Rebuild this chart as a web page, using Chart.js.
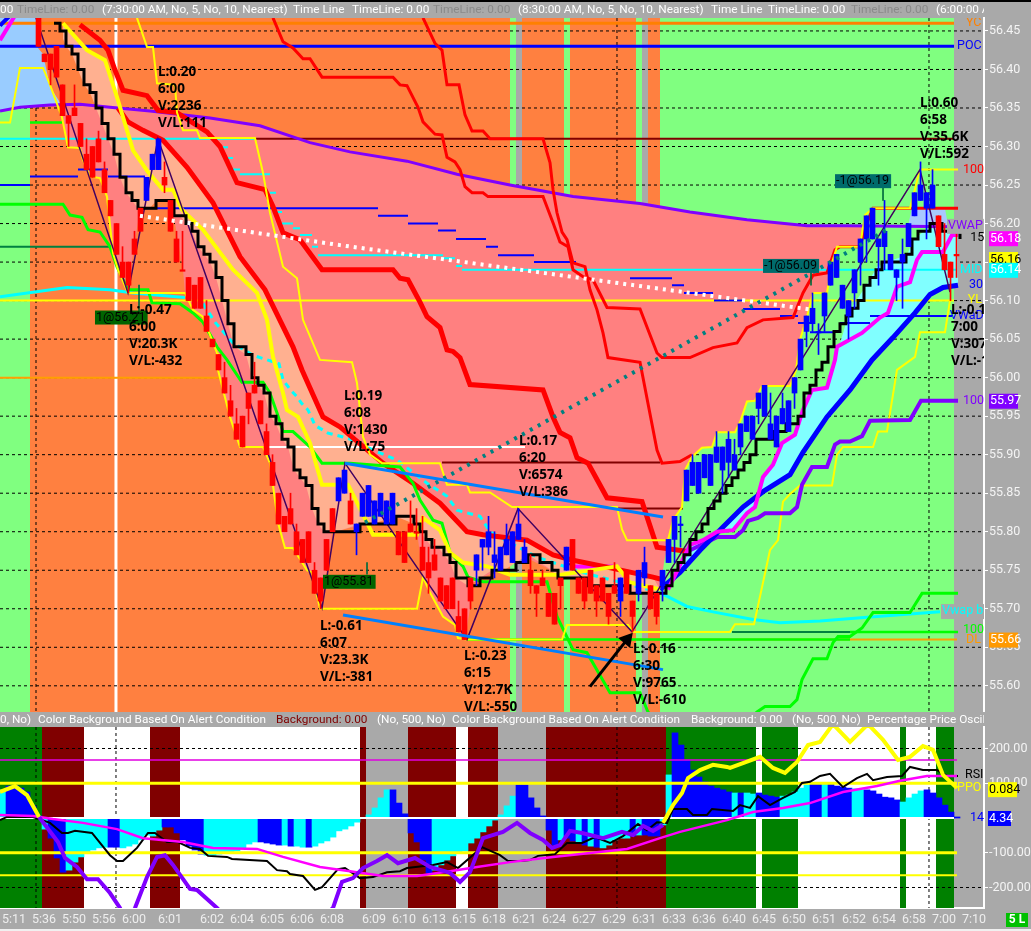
<!DOCTYPE html>
<html>
<head>
<meta charset="utf-8">
<title>Tick chart</title>
<script src="https://cdn.jsdelivr.net/npm/chart.js@4"></script>
<style>
  html, body { margin: 0; padding: 0; background: #a9a9a9; overflow: hidden; }
  #wrap { position: relative; width: 1031px; height: 931px; }
  canvas { position: absolute; left: 0; display: block; }
  #priceCanvas { top: 0; }
  #oscCanvas { top: 712px; }
</style>
</head>
<body>
<div id="wrap">
  <canvas id="priceCanvas" width="1031" height="712"></canvas>
  <canvas id="oscCanvas" width="1031" height="219"></canvas>
</div>
<script>
// --- x axis: one unit is one bar slot ---
const timeTickPos = [2.33, 7.33, 12.33, 17.33, 22.33, 28.33, 35.33, 40.33, 45.33, 50.33, 55.33, 62.33, 67.33, 72.33, 77.33, 82.33, 87.33, 92.33, 97.33, 102.33, 107.33, 112.33, 117.33, 122.33, 127.33, 132.33, 137.33, 142.33, 147.33, 152.33, 157.33, 162.33];
const timeTickLabels = ['5:11', '5:36', '5:50', '5:56', '6:00', '6:01', '6:02', '6:04', '6:05', '6:06', '6:08', '6:09', '6:10', '6:13', '6:15', '6:18', '6:21', '6:24', '6:27', '6:29', '6:31', '6:33', '6:36', '6:40', '6:45', '6:50', '6:51', '6:52', '6:54', '6:58', '7:00', '7:10'];
const sessionLines = [6, 102.83, 154.83];
const whiteSessionLine = 19.33;

// --- price panel ticks ---
const priceTicks = [56.45, 56.40, 56.35, 56.30, 56.25, 56.20, 56.15, 56.10, 56.05, 56.00, 55.95, 55.90, 55.85, 55.80, 55.75, 55.70, 55.65, 55.60];
const oscTicks = [200, 100, -100, -200];

// --- background alert bands: start, end, kind ---
const priceBands = [[0, 5, 'g'], [5, 85, 'o'], [85, 86, 'g'], [86, 87, 's'], [87, 94, 'o'], [94, 95, 'g'], [95, 106, 'o'], [106, 107, 'g'], [107, 108, 's'], [108, 110, 'o'], [110, 159, 'g']];
const oscBands = [[0, 7, 'G'], [7, 14, 'M'], [14, 25, 'W'], [25, 30, 'M'], [30, 60, 'W'], [60, 61, 'M'], [61, 68, 's'], [68, 76, 'M'], [76, 78, 'W'], [78, 83, 'M'], [83, 91, 's'], [91, 111, 'M'], [111, 126, 'G'], [126, 127, 'W'], [127, 133, 'G'], [133, 150, 'W'], [150, 151, 'G'], [151, 156, 'W'], [156, 159, 'G']];

// --- candles, first one sits in slot 6 ---
const candleFirst = 6;
const candleOpen = [56.47, 56.42, 56.42, 56.43, 56.38, 56.34, 56.35, 56.33, 56.29, 56.30, 56.31, 56.27, 56.23, 56.20, 56.15, 56.15, 56.18, 56.22, 56.23, 56.27, 56.27, 56.26, 56.23, 56.18, 56.14, 56.13, 56.12, 56.13, 56.08, 56.05, 56.03, 56.00, 55.97, 55.94, 55.95, 55.98, 55.99, 55.97, 55.93, 55.89, 55.85, 55.82, 55.83, 55.80, 55.79, 55.80, 55.75, 55.74, 55.79, 55.83, 55.84, 55.85, 55.84, 55.80, 55.82, 55.82, 55.81, 55.82, 55.81, 55.81, 55.80, 55.80, 55.81, 55.80, 55.78, 55.76, 55.77, 55.74, 55.73, 55.74, 55.69, 55.70, 55.74, 55.75, 55.78, 55.78, 55.76, 55.75, 55.77, 55.76, 55.79, 55.76, 55.75, 55.73, 55.74, 55.72, 55.72, 55.74, 55.75, 55.79, 55.74, 55.74, 55.75, 55.73, 55.74, 55.72, 55.73, 55.71, 55.75, 55.71, 55.72, 55.74, 55.73, 55.72, 55.73, 55.76, 55.79, 55.81, 55.84, 55.86, 55.85, 55.87, 55.86, 55.89, 55.88, 55.89, 55.88, 55.91, 55.93, 55.92, 55.96, 55.95, 55.92, 55.91, 55.94, 55.93, 55.98, 56.01, 56.06, 56.07, 56.06, 56.08, 56.12, 56.13, 56.09, 56.08, 56.11, 56.15, 56.18, 56.18, 56.17, 56.17, 56.14, 56.13, 56.15, 56.17, 56.21, 56.23, 56.22, 56.22, 56.21, 56.16, 56.15, 56.16];
const candleClose = [56.43, 56.41, 56.40, 56.39, 56.34, 56.33, 56.34, 56.30, 56.27, 56.26, 56.28, 56.24, 56.21, 56.16, 56.13, 56.12, 56.16, 56.19, 56.26, 56.29, 56.31, 56.25, 56.19, 56.15, 56.14, 56.10, 56.09, 56.09, 56.06, 56.04, 56.01, 55.98, 55.95, 55.92, 55.91, 55.96, 55.98, 55.94, 55.90, 55.86, 55.81, 55.80, 55.81, 55.77, 55.76, 55.76, 55.72, 55.71, 55.75, 55.80, 55.87, 55.88, 55.81, 55.81, 55.85, 55.86, 55.84, 55.85, 55.84, 55.85, 55.77, 55.76, 55.80, 55.80, 55.75, 55.74, 55.75, 55.71, 55.70, 55.70, 55.67, 55.66, 55.71, 55.77, 55.79, 55.80, 55.77, 55.78, 55.79, 55.80, 55.81, 55.78, 55.73, 55.72, 55.73, 55.69, 55.68, 55.73, 55.78, 55.75, 55.72, 55.71, 55.72, 55.71, 55.71, 55.69, 55.72, 55.74, 55.72, 55.69, 55.75, 55.76, 55.70, 55.69, 55.75, 55.79, 55.82, 55.81, 55.88, 55.89, 55.89, 55.90, 55.90, 55.91, 55.91, 55.92, 55.90, 55.94, 55.95, 55.95, 55.98, 55.99, 55.94, 55.95, 55.96, 55.97, 56.00, 56.05, 56.08, 56.09, 56.06, 56.11, 56.15, 56.16, 56.12, 56.10, 56.14, 56.18, 56.21, 56.22, 56.18, 56.19, 56.16, 56.14, 56.16, 56.20, 56.24, 56.25, 56.24, 56.25, 56.17, 56.14, 56.13, 56.16];
const candleHigh = [56.47, 56.42, 56.42, 56.43, 56.38, 56.34, 56.38, 56.33, 56.31, 56.30, 56.32, 56.28, 56.23, 56.20, 56.17, 56.15, 56.19, 56.22, 56.26, 56.29, 56.31, 56.28, 56.23, 56.19, 56.19, 56.13, 56.12, 56.13, 56.10, 56.05, 56.03, 56.02, 55.99, 55.96, 55.95, 55.98, 56.02, 55.97, 55.94, 55.90, 55.85, 55.82, 55.85, 55.81, 55.79, 55.80, 55.76, 55.74, 55.79, 55.83, 55.87, 55.88, 55.85, 55.81, 55.85, 55.86, 55.84, 55.85, 55.84, 55.85, 55.80, 55.80, 55.84, 55.83, 55.82, 55.78, 55.79, 55.74, 55.73, 55.74, 55.71, 55.70, 55.74, 55.77, 55.79, 55.82, 55.80, 55.78, 55.81, 55.80, 55.83, 55.79, 55.77, 55.73, 55.75, 55.72, 55.72, 55.74, 55.78, 55.79, 55.74, 55.74, 55.75, 55.73, 55.74, 55.72, 55.76, 55.74, 55.75, 55.71, 55.75, 55.78, 55.73, 55.72, 55.75, 55.79, 55.82, 55.82, 55.88, 55.90, 55.89, 55.90, 55.90, 55.93, 55.91, 55.93, 55.92, 55.94, 55.95, 55.95, 55.98, 55.99, 55.98, 55.95, 55.98, 55.97, 56.00, 56.05, 56.08, 56.11, 56.07, 56.11, 56.15, 56.16, 56.12, 56.10, 56.14, 56.18, 56.21, 56.22, 56.18, 56.23, 56.16, 56.14, 56.18, 56.20, 56.24, 56.28, 56.24, 56.27, 56.21, 56.20, 56.15, 56.19];
const candleLow = [56.43, 56.41, 56.38, 56.39, 56.34, 56.30, 56.34, 56.30, 56.27, 56.26, 56.28, 56.24, 56.21, 56.16, 56.13, 56.11, 56.16, 56.19, 56.23, 56.27, 56.27, 56.24, 56.19, 56.15, 56.14, 56.10, 56.09, 56.09, 56.06, 56.04, 56.01, 55.98, 55.95, 55.92, 55.91, 55.94, 55.98, 55.94, 55.90, 55.86, 55.81, 55.80, 55.81, 55.77, 55.76, 55.76, 55.72, 55.70, 55.75, 55.80, 55.84, 55.85, 55.81, 55.77, 55.82, 55.82, 55.81, 55.82, 55.81, 55.81, 55.77, 55.76, 55.80, 55.79, 55.75, 55.72, 55.75, 55.71, 55.70, 55.70, 55.67, 55.66, 55.70, 55.73, 55.75, 55.77, 55.74, 55.75, 55.77, 55.76, 55.79, 55.76, 55.72, 55.69, 55.73, 55.69, 55.68, 55.70, 55.75, 55.75, 55.72, 55.70, 55.72, 55.69, 55.71, 55.68, 55.72, 55.69, 55.72, 55.67, 55.71, 55.73, 55.70, 55.68, 55.71, 55.76, 55.76, 55.78, 55.84, 55.86, 55.85, 55.87, 55.86, 55.89, 55.85, 55.87, 55.88, 55.90, 55.93, 55.92, 55.94, 55.95, 55.92, 55.91, 55.94, 55.93, 55.96, 56.01, 56.04, 56.06, 56.03, 56.06, 56.12, 56.13, 56.09, 56.05, 56.09, 56.12, 56.15, 56.18, 56.12, 56.14, 56.14, 56.10, 56.09, 56.17, 56.21, 56.23, 56.18, 56.22, 56.17, 56.14, 56.10, 56.13];

// --- price panel lines: [slot, price] ---
const vwapLine = [[0, 56.346], [3.33, 56.351], [8.33, 56.354], [13.33, 56.355], [18.33, 56.351], [25, 56.346], [35, 56.337], [43.33, 56.327], [51.67, 56.305], [58.33, 56.293], [67.83, 56.281], [76.17, 56.264], [85, 56.250], [95.5, 56.235], [106.67, 56.226], [115, 56.215], [124.5, 56.205], [134.5, 56.197], [141.17, 56.197], [159.5, 56.196]];
const lowerChannel = [[0, 56.331], [1.67, 56.331], [3.33, 56.402], [7.17, 56.402], [8.33, 56.380], [10.33, 56.338], [11.33, 56.299], [13.33, 56.298], [13.83, 56.283], [15, 56.261], [16.67, 56.259], [17.83, 56.235], [18.83, 56.162], [19.67, 56.140], [21.33, 56.110], [30.83, 56.110], [32.17, 56.088], [33.83, 56.079], [36.17, 56.032], [36.33, 56.010], [38.33, 55.949], [40, 55.910], [43.83, 55.910], [45, 55.889], [46.33, 55.812], [47.5, 55.779], [48.83, 55.779], [51.17, 55.750], [52, 55.747], [53.33, 55.700], [69.5, 55.700], [70.5, 55.741], [71.67, 55.721], [73.83, 55.690], [75.83, 55.679], [76.33, 55.662], [77.83, 55.660], [93.67, 55.660], [94.5, 55.679], [104.67, 55.679], [105.5, 55.670], [121.67, 55.670], [122.5, 55.680], [125.67, 55.680], [128.33, 55.776], [129.67, 55.789], [130.5, 55.839], [131.67, 55.849], [133.33, 55.860], [138.67, 55.860], [139.5, 55.900], [140.5, 55.910], [145.5, 55.910], [146.33, 55.930], [147.83, 55.930], [149.5, 56.010], [152.5, 56.027], [153.33, 56.059], [157.5, 56.059], [158.33, 56.100]];
const upperChannel = [[22.83, 56.467], [24.5, 56.429], [25.5, 56.429], [26.17, 56.382], [29.17, 56.380], [29.5, 56.344], [30.5, 56.321], [32.83, 56.321], [33.33, 56.311], [42.5, 56.311], [43.83, 56.266], [45, 56.214], [47.17, 56.144], [49.5, 56.129], [50.5, 56.075], [53.33, 56.023], [58.67, 56.020], [59.5, 55.993], [60.5, 55.923], [61.67, 55.900], [63.67, 55.889], [73.33, 55.889], [74.5, 55.861], [77.83, 55.861], [78.33, 55.851], [81.67, 55.851], [85.33, 55.832], [102.83, 55.832], [103.67, 55.803], [104.5, 55.789], [111.33, 55.789], [112.17, 55.815], [113.67, 55.832], [114.17, 55.880], [115.33, 55.897], [117, 55.909], [118.67, 55.910], [119.5, 55.929], [122.5, 55.929], [123.33, 55.942], [124.5, 55.969], [125.83, 55.970], [127, 55.989], [131.67, 55.989], [132.67, 56.010], [133.33, 56.049], [134.5, 56.079], [135.5, 56.110], [137.83, 56.110], [138.67, 56.149], [139.5, 56.170], [143.33, 56.170], [144.17, 56.211], [145.5, 56.220], [151.67, 56.220], [153.33, 56.270], [159.67, 56.270]];
const pinkFloor = [[10.33, 56.338], [11.33, 56.299], [13.33, 56.298], [13.83, 56.283], [15, 56.261], [16.67, 56.259], [17.83, 56.235], [18.83, 56.162], [19.67, 56.140], [21.33, 56.110], [22.33, 56.170], [23.33, 56.218], [24.5, 56.220], [26.17, 56.228], [28, 56.228], [28.67, 56.218], [29.17, 56.200], [30.5, 56.140], [30.83, 56.110], [32.17, 56.088], [33.83, 56.079], [36.17, 56.032], [36.33, 56.010], [38.33, 55.949], [40, 55.910], [43.83, 55.910], [45, 55.889], [46.33, 55.812], [47.5, 55.779], [48.83, 55.779], [51.17, 55.750], [52, 55.747], [53.33, 55.700], [54.33, 55.745], [55.33, 55.799], [58.33, 55.805], [60, 55.807], [62.17, 55.813], [66.17, 55.818], [69.17, 55.812], [69.67, 55.790], [70.5, 55.741], [71.67, 55.721], [73.83, 55.690], [75.83, 55.679], [76.33, 55.662], [77.5, 55.660], [78.33, 55.700], [78.83, 55.734], [80.5, 55.741], [83.33, 55.750], [86.17, 55.763], [87.83, 55.766], [91.17, 55.753], [93.33, 55.741], [96.17, 55.741], [101.17, 55.728], [105.5, 55.725], [110, 55.722], [110.67, 55.760], [112.17, 55.815], [113.67, 55.832], [114.17, 55.880], [115.33, 55.897], [117, 55.909], [118.67, 55.910], [119.5, 55.929], [122.5, 55.929], [123.33, 55.942], [124.5, 55.969], [125.83, 55.970], [127, 55.989], [131.67, 55.989], [132.67, 56.010], [133.33, 56.049], [134.5, 56.079], [135.5, 56.110], [137.83, 56.110], [138.67, 56.149], [139.5, 56.170], [143.33, 56.170], [143.67, 56.197]];
const peachCeiling = [[10.5, 56.460], [14.5, 56.425], [17.5, 56.412], [19.5, 56.364], [19.67, 56.350], [21.33, 56.332], [23.83, 56.321], [27.17, 56.308], [31.17, 56.273], [35.5, 56.227], [40, 56.157], [44.17, 56.114], [48.83, 56.040], [50.33, 56.010], [53.83, 55.949], [56.67, 55.936], [63.83, 55.889], [68.83, 55.863], [73.33, 55.837], [77.83, 55.800], [80.5, 55.796], [87.83, 55.789], [92.17, 55.770], [95.5, 55.763], [101.17, 55.754], [108.83, 55.741], [110, 55.725]];
const redInner = [[19.67, 56.350], [21.33, 56.332], [23.83, 56.321], [27.17, 56.308], [31.17, 56.273], [35.5, 56.227], [40, 56.157], [44.17, 56.114], [48.83, 56.040], [50.33, 56.010], [53.83, 55.949], [56.67, 55.936], [63.83, 55.889], [68.83, 55.863], [73.33, 55.837], [77.83, 55.800], [80.5, 55.796], [87.83, 55.789], [92.17, 55.770], [95.5, 55.763], [101.17, 55.754], [108.83, 55.741], [110.83, 55.737]];
const redOuter = [[13.33, 56.458], [16.67, 56.438], [18, 56.425], [19.17, 56.399], [20.5, 56.373], [24.5, 56.366], [26.33, 56.347], [29.5, 56.344], [34.5, 56.319], [36.67, 56.300], [39.5, 56.253], [44.17, 56.244], [45.5, 56.222], [47.17, 56.188], [50, 56.179], [53.67, 56.140], [65.5, 56.140], [66.67, 56.129], [68, 56.127], [70, 56.098], [71.17, 56.079], [73.33, 56.065], [74.5, 56.036], [75.5, 56.034], [76.67, 56.026], [78.33, 55.991], [90.5, 55.984], [92.17, 55.949], [93.33, 55.929], [95, 55.922], [96.17, 55.896], [98, 55.889], [101.17, 55.844], [107, 55.839], [109.5, 55.780], [115, 55.774]];
const redThinA = [[45.5, 56.467], [47.17, 56.436], [48.83, 56.428], [50.5, 56.414], [51.67, 56.414], [53.67, 56.390], [65.5, 56.390], [66.67, 56.380], [67.83, 56.379], [69.67, 56.351], [70.5, 56.332], [72.5, 56.316], [73.67, 56.315], [74.5, 56.286], [75.83, 56.280], [76.67, 56.270], [77.5, 56.248], [78.67, 56.240], [80.5, 56.240], [81.33, 56.235], [90.5, 56.235], [92.17, 56.201], [93.33, 56.176], [94.67, 56.170], [95.5, 56.140], [97.17, 56.131], [98.83, 56.127], [101.17, 56.091], [106.67, 56.089], [109.5, 56.032], [110.33, 56.026], [115, 56.026], [118.83, 56.039], [122.83, 56.045], [124.5, 56.065], [127.17, 56.075], [132.17, 56.078], [133.83, 56.110], [135.5, 56.133], [137.83, 56.136], [139.17, 56.166], [140, 56.170], [143.33, 56.170], [144.33, 56.198], [145.5, 56.220], [159.67, 56.220]];
const redThinB = [[70.5, 56.467], [72.5, 56.434], [73.67, 56.425], [74.5, 56.380], [76.5, 56.380], [77.5, 56.341], [78.67, 56.320], [80.5, 56.320], [81.67, 56.310], [90.5, 56.310], [91.67, 56.279], [92.17, 56.244], [92.83, 56.214], [93.67, 56.189], [94.5, 56.179], [95.5, 56.149], [97.5, 56.144], [98.33, 56.114], [99.5, 56.088], [100.5, 56.058], [101.33, 56.026], [106.67, 56.020], [109.5, 55.906], [110.33, 55.889], [113.33, 55.891], [115.33, 55.900]];
const blackStair = [[9, 56.46], [10, 56.45], [11, 56.43], [12, 56.42], [13, 56.40], [14, 56.38], [15, 56.37], [16, 56.35], [17, 56.33], [18, 56.31], [19, 56.29], [20, 56.26], [21, 56.24], [22, 56.23], [23, 56.22], [25, 56.22], [26, 56.23], [28, 56.23], [29, 56.21], [30, 56.21], [31, 56.20], [32, 56.19], [33, 56.17], [34, 56.16], [35, 56.15], [36, 56.13], [37, 56.10], [38, 56.07], [39, 56.04], [41, 56.03], [42, 56.00], [43, 55.99], [44, 55.98], [45, 55.95], [46, 55.94], [47, 55.92], [48, 55.91], [49, 55.88], [50, 55.87], [51, 55.86], [52, 55.83], [53, 55.81], [54, 55.80], [56, 55.80], [60, 55.81], [62, 55.81], [66, 55.82], [69, 55.81], [70, 55.80], [71, 55.79], [72, 55.78], [73, 55.78], [74, 55.77], [75, 55.76], [76, 55.74], [78, 55.73], [80, 55.74], [82, 55.75], [84, 55.75], [86, 55.76], [88, 55.77], [90, 55.76], [92, 55.75], [93, 55.74], [96, 55.74], [98, 55.73], [101, 55.73], [105, 55.72], [110, 55.72], [111, 55.73], [112, 55.75], [113, 55.76], [114, 55.77], [115, 55.79], [116, 55.80], [117, 55.81], [118, 55.83], [119, 55.84], [120, 55.85], [121, 55.86], [122, 55.87], [123, 55.88], [124, 55.89], [125, 55.90], [126, 55.92], [127, 55.92], [129, 55.93], [131, 55.94], [133, 55.95], [134, 55.98], [135, 55.99], [136, 56.01], [137, 56.02], [138, 56.04], [139, 56.06], [140, 56.07], [141, 56.08], [142, 56.09], [143, 56.10], [144, 56.12], [145, 56.13], [146, 56.14], [147, 56.15], [149, 56.15], [151, 56.16], [152, 56.18], [153, 56.19], [155, 56.20], [157, 56.19], [160, 56.18]];
const yellowFast = [[10.5, 56.460], [14.5, 56.425], [17.5, 56.412], [19.5, 56.364], [22.17, 56.295], [24.67, 56.267], [27.17, 56.244], [28.83, 56.244], [30.33, 56.218], [33.83, 56.192], [38.83, 56.140], [42.83, 56.110], [44.5, 56.075], [45.5, 56.027], [47.17, 55.980], [47.83, 55.958], [49.67, 55.949], [51.67, 55.915], [53.67, 55.861], [58, 55.861], [61.17, 55.812], [62.17, 55.796], [69.5, 55.796], [70.5, 55.818], [73.33, 55.802], [75, 55.773], [77.17, 55.760], [81.17, 55.755], [85, 55.744], [93.33, 55.744], [102.83, 55.755], [105, 55.734], [110, 55.725]];
const greenLine = [[0, 56.225], [10.5, 56.225], [11.67, 56.211], [13.67, 56.208], [14.67, 56.192], [16.67, 56.189], [18.33, 56.170], [19.5, 56.144], [21.33, 56.114], [24.67, 56.114], [25.33, 56.097], [30, 56.096], [32.17, 56.084], [33.83, 56.072], [36.17, 56.040], [37.83, 56.023], [40.33, 55.994], [43.83, 55.994], [45, 55.980], [46.17, 55.954], [47.17, 55.930], [48.83, 55.930], [51.67, 55.910], [53.67, 55.889], [58.33, 55.889], [66.67, 55.884], [68.83, 55.863], [70, 55.841], [72.17, 55.815], [73.67, 55.811], [75, 55.773], [77.17, 55.755], [78, 55.741], [80.5, 55.735], [91.17, 55.735], [92.83, 55.690], [95.5, 55.647], [97.83, 55.643], [101.67, 55.591], [106.67, 55.591], [108, 55.566], [116.67, 55.504], [126.17, 55.566], [127.5, 55.573], [131.67, 55.573], [132.83, 55.582], [133.67, 55.608], [135.5, 55.635], [137.83, 55.635], [138.83, 55.656], [139.67, 55.664], [141.67, 55.664], [143.67, 55.675], [145.5, 55.695], [151.67, 55.695], [153.67, 55.720], [159.67, 55.720]];
const vwapBandLeft = [[0, 56.105], [11.17, 56.117], [18.33, 56.114], [22.17, 56.110], [30.83, 56.104]];
const vwapBandMid = [[33.83, 56.096], [35.83, 56.072], [38.83, 56.045], [42.17, 56.029], [46.5, 56.018], [47.17, 55.997], [48.33, 55.985], [49.5, 55.975], [50.33, 55.966], [51.33, 55.958], [52.5, 55.938], [54.67, 55.928], [57.17, 55.923], [58.83, 55.919], [62.17, 55.906], [66.17, 55.893], [71.17, 55.863], [74.5, 55.846], [76.17, 55.828], [80, 55.820], [81.67, 55.800], [89.5, 55.767], [92.17, 55.760], [97.17, 55.747], [110, 55.721]];
const vwapBandRight = [[110, 55.721], [114.5, 55.703], [118.83, 55.696], [125.5, 55.686], [130, 55.682], [136.67, 55.684], [144.5, 55.689], [156.67, 55.696]];
const magentaLine = [[111.33, 55.725], [115, 55.783], [117.17, 55.789], [119.5, 55.800], [122.17, 55.802], [124.5, 55.824], [125.83, 55.832], [127.17, 55.871], [128.83, 55.887], [130.33, 55.915], [132.5, 55.926], [133.83, 55.958], [135.33, 55.984], [137.83, 55.987], [139.17, 56.023], [139.5, 56.040], [143.67, 56.058], [146.67, 56.078], [148, 56.084], [149.5, 56.118], [151.67, 56.124], [152.83, 56.153], [153.67, 56.163], [157.17, 56.163], [158.67, 56.185], [159.67, 56.185]];
const magentaHead = [[0, 56.438], [2.5, 56.470]];
const blueHead = [[0, 56.457], [1.67, 56.470]];
const cyanCeiling = [[111.33, 55.725], [115, 55.783], [117.17, 55.789], [119.5, 55.800], [122.17, 55.802], [124.5, 55.824], [125.83, 55.832], [127.17, 55.871], [128.83, 55.887], [130.33, 55.915], [132.5, 55.926], [133.83, 55.958], [135.33, 55.984], [137.83, 55.987], [139.17, 56.023], [141.67, 56.088], [144.5, 56.121], [146.17, 56.144], [148.83, 56.153], [151.17, 56.159], [152.17, 56.179], [155, 56.196], [157.83, 56.192], [159.67, 56.185]];
const blueThick = [[110, 55.725], [113.33, 55.747], [116.67, 55.776], [120.5, 55.806], [123.83, 55.832], [127.17, 55.852], [131.67, 55.874], [133.83, 55.903], [137.83, 55.949], [141.67, 55.984], [145.33, 56.023], [148.83, 56.052], [152.5, 56.084], [155, 56.108], [157.17, 56.117], [159.67, 56.120]];
const purpleStep = [[114.5, 55.774], [119.5, 55.793], [122.5, 55.793], [123.83, 55.802], [124.67, 55.814], [126.33, 55.818], [127.5, 55.824], [131.67, 55.824], [132.83, 55.832], [133.67, 55.861], [135.33, 55.884], [137.83, 55.884], [139.17, 55.913], [140, 55.917], [141.67, 55.917], [143.67, 55.924], [145, 55.944], [151.67, 55.945], [153.5, 55.970], [159.67, 55.970]];
const zigzag = [[6, 56.467], [21.33, 56.110], [26.33, 56.310], [53.67, 55.701], [57.5, 55.889], [77.83, 55.660], [86.33, 55.830], [105.33, 55.670], [153.33, 56.270], [158.33, 56.111]];
const tealDots = [[60.83, 55.812], [110, 56.026], [135.5, 56.137], [147.83, 56.192]];
const whiteDots = [[23.33, 56.210], [56.67, 56.172], [115, 56.110], [135.5, 56.088]];
const trendUpper = [[57.5, 55.889], [110.5, 55.819]];
const trendLower = [[57.17, 55.692], [110.5, 55.621]];
const arrowLine = [[98.33, 55.599], [104.5, 55.660]];
const leftSkyEdge = [[0, 56.467], [6, 56.467], [6.33, 56.428], [7.17, 56.420], [8.33, 56.378], [10, 56.357], [10.33, 56.353]];
const rightSkyEdge = [[151.33, 56.197], [152, 56.220], [157.5, 56.220], [158, 56.197]];

// --- flat stubs: from slot, to slot, price ---
const ycLevel = [[0, 159, 56.46]];
const pocLevel = [[0, 159, 56.43]];
const yesterdayLow = [[0, 159, 56.10]];
const orangeLevels = [[0, 36.67, 56.00], [93.83, 159.5, 55.66]];
const cyanLevels = [[0, 42.5, 56.31], [37, 38, 56.299], [38, 38.83, 56.285], [38.83, 40, 56.27], [40, 45, 56.264], [45, 46, 56.24], [46, 47, 56.215], [47, 48.83, 56.20], [48.83, 50, 56.194], [50, 52, 56.185], [52, 53, 56.17], [53, 73.83, 56.159], [73.83, 75.83, 56.155], [76, 77, 56.145], [77, 159.5, 56.14]];
const maroonLevels = [[42.5, 159, 56.31], [73.67, 110, 55.89], [103, 113.83, 55.83]];
const whiteLevels = [[40.5, 87.5, 55.91]];
const darkGreenLevels = [[0, 18.83, 56.17], [122, 141.67, 55.67]];
const limeLevels = [[5, 10.33, 56.331], [141.67, 159.67, 55.67], [77.83, 141.67, 55.66]];
const magentaStub = [[95.83, 102.17, 55.755]];
const blueStubs = [[0, 5, 56.25], [5, 13, 56.261], [13, 18, 56.27], [18, 24.17, 56.261], [24.17, 63, 56.22], [63, 68, 56.21], [68, 73, 56.20], [73, 76, 56.191], [76, 81, 56.18], [81, 83, 56.17], [83, 89, 56.159], [89, 96, 56.15], [105, 112, 56.129], [112, 114, 56.12], [114, 118.83, 56.11], [119, 123.67, 56.10], [123.83, 130, 56.089], [130, 133, 56.08], [133, 135, 56.071], [135, 139.17, 56.059], [140, 145, 56.071], [145, 158.67, 56.08]];
const tradeStems = [[23.17, 56.12, 56.085], [61.17, 55.76, 55.745], [147.17, 56.25, 56.23], [135.17, 56.137, 56.12]];

// --- text pinned to the price scale ---
const noteBlocks = [
  [26.33, 56.397, ['L:0.20', '6:00', 'V:2236', 'V/L:111']],
  [21.5, 56.088, ['L:-0.47', '6:00', 'V:20.3K', 'V/L:-432']],
  [153.33, 56.356, ['L:0.60', '6:58', 'V:35.6K', 'V/L:592']],
  [53.33, 55.678, ['L:-0.61', '6:07', 'V:23.3K', 'V/L:-381']],
  [57.33, 55.976, ['L:0.19', '6:08', 'V:1430', 'V/L:75']],
  [86.5, 55.917, ['L:0.17', '6:20', 'V:6574', 'V/L:386']],
  [77.33, 55.638, ['L:-0.23', '6:15', 'V:12.7K', 'V/L:-550']],
  [105.5, 55.648, ['L:-0.16', '6:30', 'V:9765', 'V/L:-610']],
  [158.5, 56.087, ['L:-0.1', '7:00', 'V:307', 'V/L:-1']]
];
const seriesTags = [
  ['YC', 161, 56.460, '#ff8000'], ['POC', 159.5, 56.430, '#0000ff'], ['100', 160.5, 56.270, '#ff0000'],
  ['VWAP', 158, 56.197, '#8000ff'], ['15', 161.7, 56.181, '#000000'], ['MID', 160, 56.140, '#00ffff'],
  ['30', 161.5, 56.120, '#0000ff'], ['YL', 161.3, 56.101, '#ffff00'], ['VWaD', 158.3, 56.080, '#0000ff'],
  ['100', 160.5, 55.970, '#8000ff'], ['Vwap b', 157, 55.697, '#00ffff'], ['100', 160.5, 55.672, '#00ff00'],
  ['DL', 161, 55.660, '#ff9900']
];
const tradeTags = [['1@56.21', 15.83, 56.078, '#006400'], ['1@55.81', 53.83, 55.735, '#006400'], ['-1@56.19', 139.17, 56.255, '#006b6b'], ['-1@56.09', 127.17, 56.145, '#006b6b']];
const priceFlags = [['56.18', 56.181, '#ff00ff', '#ffffff'], ['56.16', 56.154, '#ffff00', '#000000'], ['56.14', 56.140, '#00ffff', '#ffffff'], ['55.97', 55.970, '#8000ff', '#ffffff'], ['55.66', 55.660, '#ff9900', '#ffffff']];

// --- header strips ---
const topStrip = [['00', 0, 1], ['TimeLine: 0.00', 17, 0], ['(7:30:00 AM, No, 5, No, 10, Nearest)', 102, 1], ['Time Line', 293, 1], ['TimeLine: 0.00', 352, 1], ['TimeLine: 0.00', 433, 0], ['(8:30:00 AM, No, 5, No, 10, Nearest)', 518, 1], ['Time Line', 711, 1], ['TimeLine: 0.00', 768, 1], ['TimeLine: 0.00', 851, 0], ['(6:00:00 AM, No, 5, No, 10, Nearest)', 936, 1]];
const oscStrip = [['0, No)', 0, 1], ['Color Background Based On Alert Condition', 38, 1], ['Background: 0.00', 276, 2], ['(No, 500, No)', 377, 1], ['Color Background Based On Alert Condition', 452, 1], ['Background: 0.00', 691, 1], ['(No, 500, No)', 792, 1], ['Percentage Price Oscillator', 867, 1]];

// --- oscillator panel ---
const histValues = [81, 92, 95, 86, 75, 35, 6, -32, -58, -115, -156, -150, -127, -112, -101, -92, -86, -84, -84, -84, -86, -81, -75, -63, -49, -52, -35, -26, -26, -43, -63, -81, -92, -104, -107, -107, -104, -101, -101, -95, -86, -75, -69, -69, -72, -75, -78, -78, -81, -81, -84, -84, -81, -72, -66, -55, -37, -32, -23, -12, 0, 9, 29, 58, 81, 81, 43, 12, -43, -69, -121, -158, -150, -135, -121, -109, -101, -95, -72, -58, -40, -23, -6, 9, 35, 63, 95, 95, 58, 29, 6, -35, -78, -63, -58, -66, -72, -78, -81, -84, -86, -78, -63, -58, -58, -52, -49, -49, -52, -52, -20, 124, 245, 210, 167, 138, 118, 104, 92, 86, 81, 75, 72, 72, 72, 69, 72, 66, 63, 60, 63, 66, 75, 86, 95, 98, 98, 98, 98, 92, 89, 86, 84, 81, 81, 78, 69, 60, 58, 52, 46, 58, 69, 78, 81, 72, 58, 37, 17, 3];
const histBlueBars = [1, 2, 3, 4, 5, 6, 8, 9, 10, 18, 19, 27, 28, 29, 30, 31, 32, 33, 43, 44, 45, 46, 48, 51, 65, 66, 67, 68, 69, 70, 71, 86, 87, 88, 89, 90, 91, 92, 94, 95, 97, 99, 105, 107, 108, 109, 112, 113, 114, 115, 116, 117, 118, 119, 120, 121, 123, 126, 127, 128, 129, 135, 136, 138, 139, 140, 141, 144, 145, 146, 147, 148, 149, 154, 155, 156, 157, 158, 159];
const ppoHead = [[0, 75], [2.5, 92], [4.5, 66], [6.5, 3]];
const ppoTail = [[110.5, -14], [112.17, 37], [113.67, 72], [114.67, 115], [116.67, 138], [118.83, 153], [121.17, 147], [121.67, 144], [123.83, 158], [126.67, 176], [128.83, 144], [130.83, 130], [132.83, 161], [134.67, 210], [136.67, 219], [138.83, 270], [141.67, 219], [144.67, 270], [147.17, 225], [149.67, 167], [151.67, 176], [153.83, 207], [155.5, 196], [157.17, 124], [159.5, 86]];
const oscPurple = [[6.5, 3], [9.67, -69], [10.83, -115], [12.83, -141], [14.5, -176], [16.33, -176], [18.33, -216], [20, -259], [21.17, -308], [22.5, -259], [24.5, -170], [26.17, -112], [27.5, -107], [28.83, -135], [31.67, -204], [32.83, -207], [36.17, -259], [45, -409], [55.5, -259], [57, -184], [58.83, -173], [60.5, -144], [62.83, -124], [64.5, -107], [66.33, -130], [69.17, -115], [71.67, -141], [75, -158], [76.67, -184], [78.33, -156], [80.5, -58], [83.83, -40], [86.17, -14], [88.33, -43], [90.5, -63], [92, -86], [93.33, -78], [95, -37], [97, -43], [100.5, -58], [103.67, -40], [105.5, -49], [107.17, -23], [108.83, -37], [110.5, -20]];
const rsiLine = [[0, -6], [1.17, 3], [5.5, 3], [8.33, -14], [10.33, -43], [11.33, -43], [12.5, -37], [15.33, -43], [18.33, -107], [19.5, -124], [20.5, -124], [22.83, -86], [24.67, -43], [25.83, -43], [27.83, -69], [29.67, -69], [31.67, -86], [33.33, -89], [34.67, -109], [37.83, -112], [38.67, -118], [44.5, -124], [46.17, -150], [47.83, -153], [48.33, -161], [50.5, -167], [52.5, -207], [53.67, -199], [56.33, -147], [57.5, -144], [60, -173], [62.17, -170], [64.5, -156], [66.67, -153], [67.83, -144], [72.17, -135], [74.5, -127], [76.33, -144], [80.33, -84], [83.33, -107], [84.67, -124], [86.67, -124], [88.33, -121], [89.67, -109], [92.5, -104], [94.5, -72], [97, -72], [99.17, -55], [101.67, -72], [103.83, -52], [106.33, -17], [107.83, -35], [109.5, -12], [111.17, -14], [112.17, 26], [114.5, 26], [115.5, 9], [117.83, 9], [118.67, 26], [122.17, 20], [123.33, 37], [125, 29], [126.33, 63], [128.33, 37], [130.5, 58], [132.5, 75], [133.67, 101], [135, 104], [136.67, 121], [138.33, 127], [140.5, 89], [142.83, 115], [144.5, 127], [145.5, 109], [147.83, 118], [150.33, 121], [151.67, 147], [153.83, 138], [156.17, 138], [157.83, 121], [159.67, 121]];
const rsiSignal = [[0, 9], [5.5, 6], [8.83, -3], [13.83, -14], [19.5, -32], [23.83, -58], [30.5, -69], [35.5, -86], [42.83, -89], [47.17, -112], [53.33, -141], [58.33, -153], [63.83, -167], [69.5, -167], [75, -153], [79.5, -141], [85, -127], [92.17, -112], [104.5, -89], [110, -58], [113.33, -40], [121.17, -6], [125.5, 17], [130.5, 29], [135, 43], [140.5, 75], [146.17, 92], [150, 107], [154.5, 121], [159.5, 121]];
const oscLevels = [[167, '#e000e0', 1.5], [100, '#ffff00', 3], [-100, '#ffff00', 3], [-165, '#ffff00', 2]];
const oscSeriesTags = [['RSI', 160.83, 124, '#000000'], ['PPO', 159.5, 86, '#ffff00'], ['14', 161.67, 0, '#0000ff']];
const oscFlags = [['0.084', 83, '#ffff00', '#000000'], ['4.34', 0, '#0000ff', '#ffffff']];

// --- colours ---
const bandColors = { g: '#80ff80', o: '#ff8040', s: '#a9a9a9', G: '#008000', M: '#800000', W: '#ffffff' };
const TICK_FONT = '12.5px Roboto';
const STRIP_FONT = '11.8px Roboto';
const NOTE_FONT = 'bold 13.5px "Noto Sans"';
const SLOT_MAX = 164;

const pts = a => a.map(([x, y]) => ({ x, y }));
const stubPts = a => a.flatMap(([x0, x1, y]) => [{ x: x0, y }, { x: x1, y }, { x: x1, y: null }]);

// later pushes draw on top, chart.js draws high order first
function makeStack() {
    const list = [];
    const add = ds => {
        ds.order = -list.length;
        list.push(ds);
        return list.length - 1;
    };
    return { list, add };
}
const lineDs = (data, color, width, extra) => Object.assign({ type: 'line', data, borderColor: color, borderWidth: width, fill: false }, extra || {});

function addBands(st, bands, yTop, yBottom) {
    bands.forEach(([a, b, kind]) => {
        st.add({ type: 'line', data: [{ x: a, y: yTop }, { x: b, y: yTop }], borderWidth: 0, borderColor: 'transparent', backgroundColor: bandColors[kind], fill: { value: yBottom } });
    });
}
function addFill(st, floor, ceiling, color) {
    const top = st.add(lineDs(pts(ceiling), 'transparent', 0));
    st.add({ type: 'line', data: pts(floor), borderWidth: 0, borderColor: 'transparent', backgroundColor: color, fill: { target: top } });
}

// ---------- price panel ----------
const PRICE_MAX = 56.4668, PRICE_MIN = 55.566;
const ps = makeStack();
addBands(ps, priceBands, PRICE_MAX, PRICE_MIN);
ps.add(lineDs([{ x: whiteSessionLine, y: PRICE_MAX }, { x: whiteSessionLine, y: PRICE_MIN }], '#ffffff', 3));
priceTicks.forEach(t => ps.add(lineDs([{ x: 0, y: t }, { x: SLOT_MAX, y: t }], '#000000', 1, { borderDash: [3, 3] })));
sessionLines.forEach(s => ps.add(lineDs([{ x: s, y: PRICE_MAX }, { x: s, y: PRICE_MIN }], '#000000', 1, { borderDash: [3, 3] })));

addFill(ps, leftSkyEdge, vwapLine, '#99ccff');
addFill(ps, pinkFloor, vwapLine, '#ff8080');
addFill(ps, blackStair.filter(p => p[0] <= 110), peachCeiling, '#ffb090');
addFill(ps, blueThick, cyanCeiling, '#80ffff');
addFill(ps, rightSkyEdge, vwapLine, '#a8c8ff');

ps.add(lineDs(stubPts(ycLevel), '#ff8000', 3));
ps.add(lineDs(stubPts(pocLevel), '#0000ff', 3));
ps.add(lineDs(stubPts(yesterdayLow), '#ffff00', 2));
ps.add(lineDs(stubPts(orangeLevels), '#ffa000', 2));
ps.add(lineDs(stubPts(darkGreenLevels), '#008040', 2));
ps.add(lineDs(stubPts(limeLevels), '#00ff00', 2.5));
ps.add(lineDs(stubPts(maroonLevels), '#800000', 2));
ps.add(lineDs(stubPts(whiteLevels), '#ffffff', 2));
ps.add(lineDs(stubPts(cyanLevels), '#00ffff', 2));
ps.add(lineDs(stubPts(blueStubs), '#0000ff', 2));
ps.add(lineDs(stubPts(magentaStub), '#ff00ff', 4));

ps.add(lineDs(pts(vwapBandLeft), '#00ffff', 3));
ps.add(lineDs(pts(vwapBandMid), '#00ffff', 3, { borderDash: [6, 5] }));
ps.add(lineDs(pts(vwapBandRight), '#00ffff', 3));
ps.add(lineDs(pts(vwapLine), '#8000ff', 3));
ps.add(lineDs(pts(redThinA), '#ff0000', 3));
ps.add(lineDs(pts(redThinB), '#ff0000', 3));
ps.add(lineDs(pts(redOuter), '#ff0000', 5));
ps.add(lineDs(pts(redInner), '#ff0000', 5));
ps.add(lineDs(pts(greenLine), '#00ff00', 3));
ps.add(lineDs(pts(lowerChannel), '#ffff00', 2));
ps.add(lineDs(pts(upperChannel), '#ffff00', 2));
ps.add(lineDs(pts(purpleStep), '#8000ff', 4));
ps.add(lineDs(pts(blueThick), '#0000ff', 5));
ps.add(lineDs(pts(blueHead), '#0000ff', 4));
ps.add(lineDs(pts(magentaLine), '#ff00ff', 4));
ps.add(lineDs(pts(magentaHead), '#ff00ff', 4));
ps.add(lineDs(pts(yellowFast), '#ffff00', 4));
ps.add(lineDs(pts(zigzag), '#400060', 1.5));
ps.add(lineDs(pts(blackStair), '#000000', 3, { stepped: 'before' }));

// candles: wick and body are separate bar datasets
const candleSlots = candleOpen.map((_, i) => i + candleFirst + 0.42);
const candleColor = i => (candleClose[i] > candleOpen[i] || (candleClose[i] === candleOpen[i] && candleSlots[i] > 110 && candleSlots[i] < 150)) ? '#0000ff' : '#ff0000';
ps.add({
    type: 'bar', grouped: false, barThickness: 1,
    data: candleSlots.map((x, i) => ({ x, y: [candleLow[i], candleHigh[i]] })),
    backgroundColor: candleSlots.map((_, i) => candleColor(i))
});
ps.add({
    type: 'bar', grouped: false, barThickness: 5,
    data: candleSlots.map((x, i) => ({ x, y: [Math.min(candleOpen[i], candleClose[i]) - (candleOpen[i] === candleClose[i] ? 0.002 : 0), Math.max(candleOpen[i], candleClose[i])] })),
    backgroundColor: candleSlots.map((_, i) => candleColor(i))
});
ps.add({
    type: 'bar', grouped: false, barThickness: 1,
    data: tradeStems.map(([x, a, b]) => ({ x, y: [b, a] })),
    backgroundColor: '#006b3c'
});

ps.add(lineDs(pts(whiteDots), '#ffffff', 4, { borderDash: [3, 5], borderCapStyle: 'butt' }));
ps.add(lineDs(pts(tealDots), '#008080', 4, { borderDash: [3, 6], borderCapStyle: 'butt' }));
ps.add(lineDs(pts(trendUpper), '#0080ff', 3));
ps.add(lineDs(pts(trendLower), '#0080ff', 3));
ps.add(lineDs(pts(arrowLine), '#000000', 3, { pointStyle: 'triangle', pointRadius: [0, 6], pointRotation: [0, 40], pointBackgroundColor: '#000000', pointBorderColor: '#000000' }));

function drawStrip(ctx, items, y, clipRight, colors) {
    ctx.save();
    ctx.beginPath();
    ctx.rect(0, y - 9, clipRight, 18);
    ctx.clip();
    ctx.font = STRIP_FONT;
    ctx.textBaseline = 'middle';
    ctx.textAlign = 'left';
    items.forEach(([txt, x, c]) => {
        ctx.fillStyle = colors[c];
        ctx.fillText(txt, x, y);
    });
    ctx.restore();
}
function drawFlag(ctx, txt, y, bg, fg, x, w) {
    ctx.fillStyle = bg;
    ctx.fillRect(x, y - 7, w, 15);
    ctx.fillStyle = fg;
    ctx.font = TICK_FONT;
    ctx.textAlign = 'left';
    ctx.textBaseline = 'middle';
    ctx.fillText(txt, x + 1, y + 0.5);
}

const priceText = {
    id: 'priceText',
    afterDraw(chart) {
        const { ctx, scales: { x, y } } = chart;
        ctx.save();
        ctx.fillStyle = '#000000';
        ctx.fillRect(0, 0, 1031, 2);
        ctx.restore();
        drawStrip(ctx, topStrip, 10, 984, ['#8a8a8a', '#ffffff']);

        ctx.save();
        ctx.beginPath();
        ctx.rect(0, 18, 984, 694);
        ctx.clip();
        ctx.textAlign = 'left';
        ctx.textBaseline = 'middle';
        ctx.font = '12.5px Roboto';
        seriesTags.forEach(([txt, sx, p, color]) => {
            const px = x.getPixelForValue(sx), py = y.getPixelForValue(p);
            if (txt === 'VWAP' || txt === 'Vwap b') {
                ctx.fillStyle = '#a9a9a9';
                ctx.fillRect(px - 1, py - 7, ctx.measureText(txt).width + 2, 15);
            }
            ctx.fillStyle = color;
            ctx.fillText(txt, px, py);
        });
        tradeTags.forEach(([txt, sx, p, bg]) => {
            const px = x.getPixelForValue(sx), py = y.getPixelForValue(p);
            const w = ctx.measureText(txt).width + 3;
            ctx.fillStyle = bg;
            ctx.fillRect(px, py - 7, w, 14);
            ctx.fillStyle = '#000000';
            ctx.fillText(txt, px + 1, py);
        });
        ctx.font = NOTE_FONT;
        ctx.fillStyle = '#000000';
        noteBlocks.forEach(([sx, p, lines]) => {
            const px = x.getPixelForValue(sx), py = y.getPixelForValue(p);
            lines.forEach((l, i) => ctx.fillText(l, px, py + i * 17));
        });
        ctx.restore();

        priceFlags.forEach(([txt, p, bg, fg]) => drawFlag(ctx, txt, y.getPixelForValue(p), bg, fg, 989, 29));
    }
};

new Chart(document.getElementById('priceCanvas'), {
    type: 'line',
    data: { datasets: ps.list },
    plugins: [priceText],
    options: {
        responsive: false,
        animation: false,
        devicePixelRatio: 1,
        events: [],
        layout: { autoPadding: false, padding: { top: 18, left: 0, right: 0, bottom: 0 } },
        elements: { point: { radius: 0 }, line: { tension: 0 } },
        plugins: { legend: { display: false }, tooltip: { enabled: false }, title: { display: false } },
        scales: {
            x: { type: 'linear', min: 0, max: SLOT_MAX, offset: false, grid: { offset: false }, display: false },
            y: {
                position: 'right', min: PRICE_MIN, max: PRICE_MAX,
                afterBuildTicks: s => { s.ticks = priceTicks.map(value => ({ value })); },
                afterFit: s => { s.width = 47; s.paddingTop = 0; s.paddingBottom = 0; },
                grid: { drawOnChartArea: false, drawTicks: true, tickColor: '#ffffff', tickLength: 4 },
                border: { display: true, color: '#ffffff', width: 2 },
                ticks: { color: '#f4f4f4', font: { family: 'Roboto', size: 12.5 }, padding: 1, autoSkip: false, callback: v => v.toFixed(2) }
            }
        }
    }
});

// ---------- oscillator panel ----------
const OSC_MAX = 261.9, OSC_MIN = -259;
const os = makeStack();
addBands(os, oscBands, OSC_MAX, OSC_MIN);
[200, -200].forEach(t => os.add(lineDs([{ x: 0, y: t }, { x: SLOT_MAX, y: t }], '#000000', 1, { borderDash: [3, 3] })));
sessionLines.concat([whiteSessionLine]).forEach(s => os.add(lineDs([{ x: s, y: OSC_MAX }, { x: s, y: OSC_MIN }], '#000000', 1, { borderDash: [3, 3] })));
os.add({
    type: 'bar', grouped: false, barThickness: 6,
    data: histValues.map((v, i) => ({ x: i + 0.5, y: v })),
    backgroundColor: histValues.map((_, i) => histBlueBars.includes(i) ? '#0000ff' : '#00ffff')
});
os.add(lineDs([{ x: 0, y: 0 }, { x: 159, y: 0 }], '#ffffff', 2));
oscLevels.forEach(([v, color, w]) => os.add(lineDs([{ x: 0, y: v }, { x: 159.5, y: v }], color, w)));
os.add(lineDs(pts(rsiLine), '#000000', 2));
os.add(lineDs(pts(rsiSignal), '#ff00ff', 2.5));
os.add(lineDs(pts(oscPurple), '#8000ff', 4));
os.add(lineDs(pts(ppoHead), '#ffff00', 4));
os.add(lineDs(pts(ppoTail), '#ffff00', 4));

const oscText = {
    id: 'oscText',
    afterDraw(chart) {
        const { ctx, scales: { x, y } } = chart;
        drawStrip(ctx, oscStrip, 8, 984, ['#8a8a8a', '#ffffff', '#800000']);
        ctx.save();
        ctx.textAlign = 'left';
        ctx.textBaseline = 'middle';
        ctx.font = '12.5px Roboto';
        oscSeriesTags.forEach(([txt, sx, v, color]) => {
            ctx.fillStyle = color;
            ctx.fillText(txt, x.getPixelForValue(sx), y.getPixelForValue(v));
        });
        ctx.restore();
        oscFlags.forEach(([txt, v, bg, fg]) => drawFlag(ctx, txt, y.getPixelForValue(v), bg, fg, 988, txt.length > 4 ? 29 : 23));
        // period badge in the corner
        ctx.save();
        ctx.fillStyle = '#00c000';
        ctx.fillRect(1006, 201, 22, 14);
        ctx.fillStyle = '#ffffff';
        ctx.font = 'bold 12px Roboto';
        ctx.textAlign = 'center';
        ctx.textBaseline = 'middle';
        ctx.fillText('5 L', 1017, 208);
        ctx.fillStyle = '#f0f0f0';
        ctx.fillRect(0, 217, 1031, 2);
        ctx.restore();
    }
};

new Chart(document.getElementById('oscCanvas'), {
    type: 'line',
    data: { datasets: os.list },
    plugins: [oscText],
    options: {
        responsive: false,
        animation: false,
        devicePixelRatio: 1,
        events: [],
        layout: { autoPadding: false, padding: { top: 15, left: 0, right: 0, bottom: 0 } },
        elements: { point: { radius: 0 }, line: { tension: 0 } },
        plugins: { legend: { display: false }, tooltip: { enabled: false }, title: { display: false } },
        scales: {
            x: {
                type: 'linear', min: 0, max: SLOT_MAX, offset: false,
                afterBuildTicks: s => { s.ticks = timeTickPos.map(value => ({ value })); },
                afterFit: s => { s.height = 23; s.paddingLeft = 0; s.paddingRight = 0; },
                grid: { offset: false, drawOnChartArea: false, drawTicks: false },
                border: { display: true, color: '#ffffff', width: 2 },
                ticks: { color: '#eeeeee', font: { family: 'Roboto', size: 12.5 }, padding: 4, autoSkip: false, maxRotation: 0, callback: v => timeTickLabels[timeTickPos.indexOf(v)] }
            },
            y: {
                position: 'right', min: OSC_MIN, max: OSC_MAX,
                afterBuildTicks: s => { s.ticks = oscTicks.map(value => ({ value })); },
                afterFit: s => { s.width = 47; s.paddingTop = 0; s.paddingBottom = 0; },
                grid: { drawOnChartArea: false, drawTicks: true, tickColor: '#ffffff', tickLength: 4 },
                border: { display: true, color: '#ffffff', width: 2 },
                ticks: { color: '#f4f4f4', font: { family: 'Roboto', size: 12.5 }, padding: 1, autoSkip: false, callback: v => v.toFixed(2) }
            }
        }
    }
});
</script>
</body>
</html>
